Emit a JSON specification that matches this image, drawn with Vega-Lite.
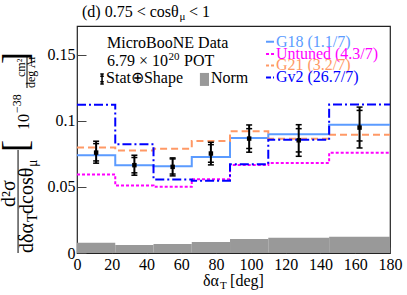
{
  "$schema": "https://vega.github.io/schema/vega-lite/v6.json",
  "width": 313,
  "height": 227,
  "autosize": "none",
  "padding": {"left": 77, "top": 26, "right": 17, "bottom": 42},
  "background": "white",
  "config": {
    "font": "Liberation Serif",
    "numberFormat": "~r",
    "view": {"stroke": "#222", "strokeWidth": 1.2},
    "text": {"font": "Liberation Serif", "color": "black"},
    "axis": {"grid": false, "domain": false, "tickColor": "#444", "tickWidth": 1, "labelFontSize": 16, "labelColor": "black",
      "labelFont": "Liberation Serif", "labelFlush": false, "labelOverlap": false, "title": null, "zindex": 1},
    "axisX": {"tickSize": -6, "labelPadding": 9, "tickCount": 9},
    "axisY": {"tickSize": -9, "labelPadding": 11, "tickCount": 4}
  },
  "datasets": {
    "bins": [
      {"lo": 0, "hi": 22, "c": 11, "data": 0.0759, "tlo": 0.0679, "thi": 0.0845, "slo": 0.0696, "shi": 0.0827, "norm": 0.0078},
      {"lo": 22, "hi": 44, "c": 33, "data": 0.0664, "tlo": 0.0588, "thi": 0.0739, "slo": 0.0606, "shi": 0.0722, "norm": 0.0060},
      {"lo": 44, "hi": 66, "c": 55, "data": 0.0651, "tlo": 0.0583, "thi": 0.0719, "slo": 0.0597, "shi": 0.0711, "norm": 0.0068},
      {"lo": 66, "hi": 88, "c": 77, "data": 0.0752, "tlo": 0.0666, "thi": 0.0837, "slo": 0.0686, "shi": 0.0819, "norm": 0.0083},
      {"lo": 88, "hi": 110, "c": 99, "data": 0.0865, "tlo": 0.0762, "thi": 0.0968, "slo": 0.0790, "shi": 0.0940, "norm": 0.0106},
      {"lo": 110, "hi": 145, "c": 127.5, "data": 0.0852, "tlo": 0.0731, "thi": 0.0970, "slo": 0.0764, "shi": 0.0940, "norm": 0.0116},
      {"lo": 145, "hi": 180, "c": 162.5, "data": 0.0948, "tlo": 0.0794, "thi": 0.1103, "slo": 0.0847, "shi": 0.1078, "norm": 0.0123}
    ],
    "models": [
      {"model": "G18 (1.1/7)", "edge": 0, "v": 0.0739},
      {"model": "G18 (1.1/7)", "edge": 22, "v": 0.0664},
      {"model": "G18 (1.1/7)", "edge": 44, "v": 0.0656},
      {"model": "G18 (1.1/7)", "edge": 66, "v": 0.0726},
      {"model": "G18 (1.1/7)", "edge": 88, "v": 0.0869},
      {"model": "G18 (1.1/7)", "edge": 110, "v": 0.0897},
      {"model": "G18 (1.1/7)", "edge": 145, "v": 0.0970},
      {"model": "G18 (1.1/7)", "edge": 180, "v": 0.0970},
      {"model": "Untuned (4.3/7)", "edge": 0, "v": 0.0593},
      {"model": "Untuned (4.3/7)", "edge": 22, "v": 0.0510},
      {"model": "Untuned (4.3/7)", "edge": 44, "v": 0.0500},
      {"model": "Untuned (4.3/7)", "edge": 66, "v": 0.0558},
      {"model": "Untuned (4.3/7)", "edge": 88, "v": 0.0666},
      {"model": "Untuned (4.3/7)", "edge": 110, "v": 0.0681},
      {"model": "Untuned (4.3/7)", "edge": 145, "v": 0.0757},
      {"model": "Untuned (4.3/7)", "edge": 180, "v": 0.0757},
      {"model": "G21 (3.2/7)", "edge": 0, "v": 0.0798},
      {"model": "G21 (3.2/7)", "edge": 22, "v": 0.0775},
      {"model": "G21 (3.2/7)", "edge": 44, "v": 0.0789},
      {"model": "G21 (3.2/7)", "edge": 66, "v": 0.0847},
      {"model": "G21 (3.2/7)", "edge": 88, "v": 0.0921},
      {"model": "G21 (3.2/7)", "edge": 110, "v": 0.0863},
      {"model": "G21 (3.2/7)", "edge": 145, "v": 0.0893},
      {"model": "G21 (3.2/7)", "edge": 180, "v": 0.0893},
      {"model": "Gv2 (26.7/7)", "edge": 0, "v": 0.1121},
      {"model": "Gv2 (26.7/7)", "edge": 22, "v": 0.0822},
      {"model": "Gv2 (26.7/7)", "edge": 44, "v": 0.0556},
      {"model": "Gv2 (26.7/7)", "edge": 66, "v": 0.0547},
      {"model": "Gv2 (26.7/7)", "edge": 88, "v": 0.0670},
      {"model": "Gv2 (26.7/7)", "edge": 110, "v": 0.0856},
      {"model": "Gv2 (26.7/7)", "edge": 145, "v": 0.1122},
      {"model": "Gv2 (26.7/7)", "edge": 180, "v": 0.1122}
    ],
    "one": [{}]
  },
  "layer": [
    {
      "data": {"name": "bins"},
      "mark": {"type": "rect", "color": "#999999"},
      "encoding": {
        "x": {"field": "lo", "type": "quantitative", "scale": {"domain": [0, 180], "nice": false, "zero": false}, "title": null},
        "x2": {"field": "hi"},
        "y": {"field": "norm", "type": "quantitative", "scale": {"domain": [0, 0.1716], "nice": false}, "title": null},
        "y2": {"datum": 0}
      }
    },
    {
      "data": {"name": "models"},
      "mark": {"type": "line", "interpolate": "step-after", "strokeWidth": 2},
      "encoding": {
        "x": {"field": "edge", "type": "quantitative"},
        "y": {"field": "v", "type": "quantitative"},
        "color": {"field": "model", "type": "nominal", "legend": null,
          "scale": {"domain": ["G18 (1.1/7)", "Untuned (4.3/7)", "G21 (3.2/7)", "Gv2 (26.7/7)"], "range": ["#5b9bff", "#ff00ff", "#ff9966", "#0000ff"]}},
        "strokeDash": {"field": "model", "type": "nominal", "legend": null,
          "scale": {"domain": ["G18 (1.1/7)", "Untuned (4.3/7)", "G21 (3.2/7)", "Gv2 (26.7/7)"], "range": [[1, 0], [3, 2], [7, 4], [9, 3, 2, 3]]}}
      }
    },
    {
      "data": {"name": "bins"},
      "mark": {"type": "rule", "color": "black", "strokeWidth": 2},
      "encoding": {
        "x": {"field": "c", "type": "quantitative"},
        "y": {"field": "tlo", "type": "quantitative"},
        "y2": {"field": "thi"}
      }
    },
    {
      "data": {"name": "bins"},
      "transform": [{"fold": ["tlo", "thi", "slo", "shi"], "as": ["k", "cap"]}],
      "mark": {"type": "tick", "orient": "horizontal", "color": "black", "size": 6, "thickness": 1.5, "opacity": 1},
      "encoding": {
        "x": {"field": "c", "type": "quantitative"},
        "y": {"field": "cap", "type": "quantitative"}
      }
    },
    {
      "data": {"name": "bins"},
      "mark": {"type": "square", "color": "black", "size": 20, "opacity": 1, "filled": true},
      "encoding": {
        "x": {"field": "c", "type": "quantitative"},
        "y": {"field": "data", "type": "quantitative"}
      }
    },
    {
      "data": {"name": "one"},
      "mark": {"type": "rule", "color": "#5b9bff", "strokeWidth": 2},
      "encoding": {"x": {"datum": 108.7, "type": "quantitative"}, "x2": {"datum": 113.3}, "y": {"datum": 0.1597, "type": "quantitative"}}
    },
    {
      "data": {"name": "one"},
      "mark": {"type": "rule", "color": "#ff00ff", "strokeWidth": 2, "strokeDash": [3, 2]},
      "encoding": {"x": {"datum": 108.7, "type": "quantitative"}, "x2": {"datum": 113.3}, "y": {"datum": 0.1504, "type": "quantitative"}}
    },
    {
      "data": {"name": "one"},
      "mark": {"type": "rule", "color": "#ff9966", "strokeWidth": 2, "strokeDash": [3, 2]},
      "encoding": {"x": {"datum": 108.7, "type": "quantitative"}, "x2": {"datum": 113.3}, "y": {"datum": 0.1417, "type": "quantitative"}}
    },
    {
      "data": {"name": "one"},
      "mark": {"type": "rule", "color": "#0000ff", "strokeWidth": 2, "strokeDash": [5, 2, 1, 2]},
      "encoding": {"x": {"datum": 108.7, "type": "quantitative"}, "x2": {"datum": 113.3}, "y": {"datum": 0.1327, "type": "quantitative"}}
    },
    {
      "data": {"name": "one"},
      "mark": {"type": "text", "text": "G18 (1.1/7)", "fontSize": 16, "align": "left", "baseline": "alphabetic", "color": "#5b9bff"},
      "encoding": {"x": {"datum": 114.4, "type": "quantitative"}, "y": {"datum": 0.156, "type": "quantitative"}}
    },
    {
      "data": {"name": "one"},
      "mark": {"type": "text", "text": "Untuned (4.3/7)", "fontSize": 16, "align": "left", "baseline": "alphabetic", "color": "#ff00ff"},
      "encoding": {"x": {"datum": 114.4, "type": "quantitative"}, "y": {"datum": 0.1467, "type": "quantitative"}}
    },
    {
      "data": {"name": "one"},
      "mark": {"type": "text", "text": "G21 (3.2/7)", "fontSize": 16, "align": "left", "baseline": "alphabetic", "color": "#ff9966"},
      "encoding": {"x": {"datum": 114.4, "type": "quantitative"}, "y": {"datum": 0.138, "type": "quantitative"}}
    },
    {
      "data": {"name": "one"},
      "mark": {"type": "text", "text": "Gv2 (26.7/7)", "fontSize": 16, "align": "left", "baseline": "alphabetic", "color": "#0000ff"},
      "encoding": {"x": {"datum": 114.4, "type": "quantitative"}, "y": {"datum": 0.1289, "type": "quantitative"}}
    },
    {
      "data": {"name": "one"},
      "mark": {"type": "text", "text": "MicroBooNE Data", "fontSize": 16, "align": "left", "baseline": "alphabetic"},
      "encoding": {"x": {"datum": 17.25, "type": "quantitative"}, "y": {"datum": 0.155, "type": "quantitative"}}
    },
    {
      "data": {"name": "one"},
      "mark": {"type": "text", "text": "6.79 × 10", "fontSize": 16, "align": "left", "baseline": "alphabetic"},
      "encoding": {"x": {"datum": 17.25, "type": "quantitative"}, "y": {"datum": 0.1414, "type": "quantitative"}}
    },
    {
      "data": {"name": "one"},
      "mark": {"type": "text", "text": "20", "fontSize": 11, "align": "left", "baseline": "alphabetic", "dx": 61.5, "dy": -6},
      "encoding": {"x": {"datum": 17.25, "type": "quantitative"}, "y": {"datum": 0.1414, "type": "quantitative"}}
    },
    {
      "data": {"name": "one"},
      "mark": {"type": "text", "text": "POT", "fontSize": 16, "align": "left", "baseline": "alphabetic", "dx": 77},
      "encoding": {"x": {"datum": 17.25, "type": "quantitative"}, "y": {"datum": 0.1414, "type": "quantitative"}}
    },
    {
      "data": {"name": "one"},
      "mark": {"type": "point", "shape": "M0,-1L0,1M-0.35,-1L0.35,-1M-0.35,1L0.35,1M-0.35,-0.55L0.35,-0.55M-0.35,0.55L0.35,0.55", "size": 100, "stroke": "black", "strokeWidth": 1.5, "filled": false, "opacity": 1},
      "encoding": {"x": {"datum": 14.4, "type": "quantitative"}, "y": {"datum": 0.1315, "type": "quantitative"}}
    },
    {
      "data": {"name": "one"},
      "mark": {"type": "text", "text": "Stat⊕Shape", "fontSize": 16, "align": "left", "baseline": "alphabetic"},
      "encoding": {"x": {"datum": 16.7, "type": "quantitative"}, "y": {"datum": 0.1287, "type": "quantitative"}}
    },
    {
      "data": {"name": "one"},
      "mark": {"type": "point", "shape": "M-0.7,-1H0.7V1H-0.7Z", "size": 169, "fill": "#999999", "filled": true, "strokeWidth": 0, "opacity": 1},
      "encoding": {"x": {"datum": 73.3, "type": "quantitative"}, "y": {"datum": 0.1312, "type": "quantitative"}}
    },
    {
      "data": {"name": "one"},
      "mark": {"type": "text", "text": "Norm", "fontSize": 16, "align": "left", "baseline": "alphabetic"},
      "encoding": {"x": {"datum": 77.05, "type": "quantitative"}, "y": {"datum": 0.1287, "type": "quantitative"}}
    },
    {
      "data": {"name": "one"},
      "mark": {"type": "text", "text": "(d) 0.75 < cosθ", "fontSize": 16, "align": "left", "baseline": "alphabetic"},
      "encoding": {"x": {"datum": 2.88, "type": "quantitative"}, "y": {"datum": 0.1786, "type": "quantitative"}}
    },
    {
      "data": {"name": "one"},
      "mark": {"type": "text", "text": "μ", "fontSize": 11, "align": "left", "baseline": "alphabetic", "dx": 97.5, "dy": 3.5},
      "encoding": {"x": {"datum": 2.88, "type": "quantitative"}, "y": {"datum": 0.1786, "type": "quantitative"}}
    },
    {
      "data": {"name": "one"},
      "mark": {"type": "text", "text": "< 1", "fontSize": 16, "align": "left", "baseline": "alphabetic", "dx": 107},
      "encoding": {"x": {"datum": 2.88, "type": "quantitative"}, "y": {"datum": 0.1786, "type": "quantitative"}}
    },
    {
      "data": {"name": "one"},
      "mark": {"type": "text", "text": "δα", "fontSize": 16, "align": "left", "baseline": "alphabetic"},
      "encoding": {"x": {"datum": 72.5, "type": "quantitative"}, "y": {"datum": -0.0249, "type": "quantitative"}}
    },
    {
      "data": {"name": "one"},
      "mark": {"type": "text", "text": "T", "fontSize": 11, "align": "left", "baseline": "alphabetic", "dx": 17, "dy": 3.5},
      "encoding": {"x": {"datum": 72.5, "type": "quantitative"}, "y": {"datum": -0.0249, "type": "quantitative"}}
    },
    {
      "data": {"name": "one"},
      "mark": {"type": "text", "text": "[deg]", "fontSize": 16, "align": "left", "baseline": "alphabetic", "dx": 27},
      "encoding": {"x": {"datum": 72.5, "type": "quantitative"}, "y": {"datum": -0.0249, "type": "quantitative"}}
    },
    {
      "data": {"name": "one"},
      "mark": {"type": "text", "text": "dδα", "fontSize": 20, "align": "left", "baseline": "alphabetic", "angle": 270},
      "encoding": {"x": {"datum": -25.3, "type": "quantitative"}, "y": {"datum": 0, "type": "quantitative"}}
    },
    {
      "data": {"name": "one"},
      "mark": {"type": "text", "text": "T", "fontSize": 14, "align": "left", "baseline": "alphabetic", "angle": 270, "dx": 31, "dy": 4},
      "encoding": {"x": {"datum": -25.3, "type": "quantitative"}, "y": {"datum": 0, "type": "quantitative"}}
    },
    {
      "data": {"name": "one"},
      "mark": {"type": "text", "text": "dcosθ", "fontSize": 20, "align": "left", "baseline": "alphabetic", "angle": 270, "dx": 39},
      "encoding": {"x": {"datum": -25.3, "type": "quantitative"}, "y": {"datum": 0, "type": "quantitative"}}
    },
    {
      "data": {"name": "one"},
      "mark": {"type": "text", "text": "μ", "fontSize": 14, "align": "left", "baseline": "alphabetic", "angle": 270, "dx": 86, "dy": 4},
      "encoding": {"x": {"datum": -25.3, "type": "quantitative"}, "y": {"datum": 0, "type": "quantitative"}}
    },
    {
      "data": {"name": "one"},
      "mark": {"type": "text", "text": "d²σ", "fontSize": 20, "align": "left", "baseline": "alphabetic", "angle": 270, "dx": 46, "dy": -18},
      "encoding": {"x": {"datum": -25.3, "type": "quantitative"}, "y": {"datum": 0, "type": "quantitative"}}
    },
    {
      "data": {"name": "one"},
      "mark": {"type": "text", "text": "[", "fontSize": 36, "align": "left", "baseline": "alphabetic", "angle": 270, "dx": 101, "dy": -6},
      "encoding": {"x": {"datum": -25.3, "type": "quantitative"}, "y": {"datum": 0, "type": "quantitative"}}
    },
    {
      "data": {"name": "one"},
      "mark": {"type": "text", "text": "10", "fontSize": 16, "align": "left", "baseline": "alphabetic", "angle": 270, "dx": 123, "dy": -4.5},
      "encoding": {"x": {"datum": -25.3, "type": "quantitative"}, "y": {"datum": 0, "type": "quantitative"}}
    },
    {
      "data": {"name": "one"},
      "mark": {"type": "text", "text": "−38", "fontSize": 12, "align": "left", "baseline": "alphabetic", "angle": 270, "dx": 140, "dy": -12},
      "encoding": {"x": {"datum": -25.3, "type": "quantitative"}, "y": {"datum": 0, "type": "quantitative"}}
    },
    {
      "data": {"name": "one"},
      "mark": {"type": "text", "text": "deg Ar", "fontSize": 12, "align": "left", "baseline": "alphabetic", "angle": 270, "dx": 165, "dy": 2},
      "encoding": {"x": {"datum": -25.3, "type": "quantitative"}, "y": {"datum": 0, "type": "quantitative"}}
    },
    {
      "data": {"name": "one"},
      "mark": {"type": "text", "text": "cm²", "fontSize": 12, "align": "left", "baseline": "alphabetic", "angle": 270, "dx": 176, "dy": -8},
      "encoding": {"x": {"datum": -25.3, "type": "quantitative"}, "y": {"datum": 0, "type": "quantitative"}}
    },
    {
      "data": {"name": "one"},
      "mark": {"type": "text", "text": "]", "fontSize": 36, "align": "right", "baseline": "alphabetic", "angle": 270, "dx": 201, "dy": -6},
      "encoding": {"x": {"datum": -25.3, "type": "quantitative"}, "y": {"datum": 0, "type": "quantitative"}}
    },
    {
      "data": {"name": "one"},
      "mark": {"type": "rule", "color": "black", "strokeWidth": 1},
      "encoding": {"x": {"datum": -33.9, "type": "quantitative"}, "y": {"datum": 0, "type": "quantitative"}, "y2": {"datum": 0.0779}}
    },
    {
      "data": {"name": "one"},
      "mark": {"type": "rule", "color": "black", "strokeWidth": 1},
      "encoding": {"x": {"datum": -28.75, "type": "quantitative"}, "y": {"datum": 0.1247, "type": "quantitative"}, "y2": {"datum": 0.1482}}
    }
  ]
}
